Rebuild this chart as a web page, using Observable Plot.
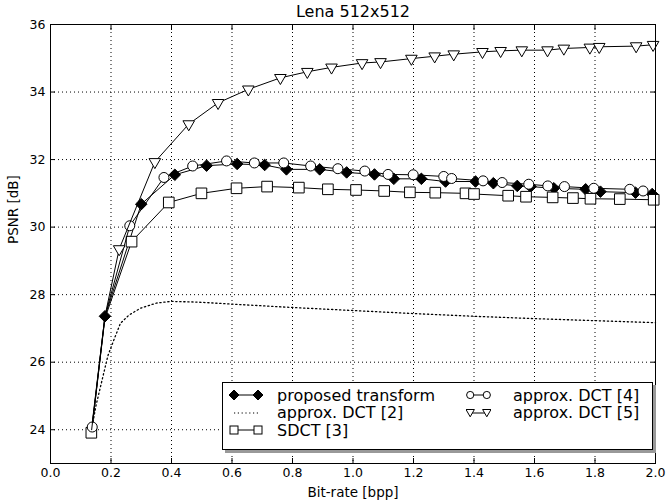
<!DOCTYPE html>
<html><head><meta charset="utf-8">
<script src="https://cdn.jsdelivr.net/npm/d3@7"></script>
<script src="https://cdn.jsdelivr.net/npm/@observablehq/plot@0.6"></script>
<style>
body{margin:0;background:#fff;}
#wrap{position:relative;width:668px;height:501px;font-family:"DejaVu Sans",sans-serif;}
#legend{position:absolute;left:222px;top:382px;width:431px;height:68px;border:1px solid #000;background:#fff;box-shadow:3px 3px 0 #999;box-sizing:border-box;}
.item{position:absolute;height:18px;display:flex;align-items:center;font-size:16px;white-space:nowrap;color:#000;}
</style></head><body><div id="wrap"></div><script>
// ---- data ----
const title = "Lena 512x512";
const xLabel = "Bit-rate [bpp]";
const yLabel = "PSNR [dB]";
const xTicks = [0, 0.2, 0.4, 0.6, 0.8, 1.0, 1.2, 1.4, 1.6, 1.8, 2.0];
const yTicks = [24, 26, 28, 30, 32, 34, 36];

const propX = [0.136,0.18,0.300,0.411,0.516,0.617,0.708,0.78,0.89,0.979,1.071,1.135,1.226,1.306,1.405,1.464,1.543,1.587,1.664,1.769,1.818,1.934,1.989];
const propY = [24.05,27.36,30.68,31.55,31.82,31.87,31.84,31.71,31.71,31.62,31.56,31.43,31.43,31.35,31.35,31.30,31.22,31.20,31.15,31.12,31.05,31.02,30.98];

const dct2X = [0.136,0.15,0.171,0.19,0.21,0.231,0.26,0.298,0.35,0.397,0.485,0.6,0.8,1.0,1.2,1.4,1.6,1.8,2.0];
const dct2Y = [24.0,24.7,25.49,26.2,26.67,27.15,27.4,27.6,27.75,27.8,27.78,27.72,27.62,27.53,27.44,27.36,27.29,27.23,27.17];

const sdctX = [0.135,0.18,0.268,0.391,0.499,0.615,0.716,0.821,0.917,1.01,1.103,1.188,1.272,1.372,1.40,1.513,1.572,1.66,1.727,1.785,1.882,1.994];
const sdctY = [23.91,27.3,29.57,30.73,31.0,31.15,31.2,31.17,31.12,31.1,31.07,31.03,31.02,31.0,30.98,30.93,30.9,30.88,30.86,30.84,30.83,30.81];

const dct4X = [0.138,0.18,0.262,0.375,0.470,0.582,0.674,0.771,0.86,0.95,1.039,1.116,1.199,1.30,1.326,1.43,1.493,1.581,1.644,1.699,1.796,1.915,1.959];
const dct4Y = [24.08,27.36,30.04,31.47,31.81,31.96,31.9,31.9,31.81,31.73,31.66,31.56,31.55,31.5,31.44,31.37,31.32,31.27,31.22,31.2,31.15,31.12,31.07];

const dct5X = [0.136,0.18,0.227,0.345,0.457,0.554,0.654,0.760,0.849,0.929,1.030,1.091,1.193,1.270,1.333,1.428,1.488,1.558,1.643,1.697,1.783,1.814,1.936,1.992];
const dct5Y = [24.0,27.36,29.35,31.93,33.05,33.68,34.08,34.42,34.60,34.73,34.86,34.89,34.99,35.06,35.12,35.19,35.22,35.24,35.24,35.29,35.32,35.34,35.36,35.40];

// ---- build ----
const rows = (xs, ys) => xs.map((x, i) => ({x, y: ys[i]}));
const prop = rows(propX, propY);
const dct2 = rows(dct2X, dct2Y);
const sdct = rows(sdctX, sdctY);
const dct4 = rows(dct4X, dct4Y);
const dct5 = rows(dct5X, dct5Y);
const firstX = propX[0];
const hiddenX = propX[1];

const lineOpt = {x: "x", y: "y", stroke: "black", strokeWidth: 1};
const chart = Plot.plot({
  width: 668, height: 501,
  marginLeft: 50, marginRight: 13, marginTop: 24, marginBottom: 38,
  style: {fontFamily: "DejaVu Sans, sans-serif", fontSize: "12.5px", background: "white", color: "black"},
  x: {domain: [0, 2], ticks: xTicks},
  y: {domain: [23, 36], ticks: yTicks},
  marks: [
    Plot.gridX(xTicks, {stroke: "black", strokeOpacity: 1, strokeDasharray: "1,3"}),
    Plot.gridY(yTicks, {stroke: "black", strokeOpacity: 1, strokeDasharray: "1,3"}),
    Plot.axisX(xTicks, {anchor: "bottom", tickSize: -5, tickPadding: 10, tickFormat: d3.format(".1f"), label: null, fontSize: 12.5}),
    Plot.axisX(xTicks, {anchor: "top", tickSize: -5, tickFormat: () => "", label: null}),
    Plot.axisY(yTicks, {anchor: "left", tickSize: -5, tickPadding: 10, tickFormat: d3.format("d"), label: null, fontSize: 12.5}),
    Plot.axisY(yTicks, {anchor: "right", tickSize: -5, tickFormat: () => "", label: null}),
    // proposed transform
    Plot.line(prop, lineOpt),
    Plot.dot(prop.filter(d => d.x !== firstX), {x: "x", y: "y", symbol: "diamond2", r: 5.2, fill: "black", stroke: "black", strokeWidth: 1}),
    // approx DCT [2]
    Plot.line(dct2, {x: "x", y: "y", stroke: "black", strokeWidth: 1.3, strokeDasharray: "1.3,2.7"}),
    // SDCT [3]
    Plot.line(sdct, lineOpt),
    Plot.dot(sdct.filter(d => d.x !== hiddenX), {x: "x", y: "y", symbol: "square", r: 6, fill: "white", stroke: "black", strokeWidth: 1}),
    // approx DCT [4]
    Plot.line(dct4, lineOpt),
    Plot.dot(dct4.filter(d => d.x !== hiddenX), {x: "x", y: "y", symbol: "circle", r: 5, fill: "white", stroke: "black", strokeWidth: 1}),
    // approx DCT [5]
    Plot.line(dct5, lineOpt),
    Plot.dot(dct5.filter(d => d.x !== hiddenX && d.x !== firstX), {x: "x", y: "y", symbol: "triangle", rotate: 180, r: 4.3, fill: "white", stroke: "black", strokeWidth: 1}),
    Plot.frame({stroke: "black", strokeWidth: 1}),
    Plot.text([title], {frameAnchor: "top", dy: -13, fontSize: 16, lineAnchor: "middle"}),
    Plot.text([xLabel], {frameAnchor: "bottom", dy: 29, fontSize: 13.5, lineAnchor: "middle"}),
    Plot.text([yLabel], {frameAnchor: "left", dx: -37, rotate: -90, fontSize: 13.5, lineAnchor: "middle"})
  ]
});
const wrap = document.getElementById("wrap");
wrap.appendChild(chart);

// ---- legend ----
const legendItems = [
  {label: "proposed transform", kind: "diamond", col: 0, row: 0},
  {label: "approx. DCT [2]", kind: "dotted", col: 0, row: 1},
  {label: "SDCT [3]", kind: "square", col: 0, row: 2},
  {label: "approx. DCT [4]", kind: "circle", col: 1, row: 0},
  {label: "approx. DCT [5]", kind: "triangle", col: 1, row: 1}
];
const legend = document.createElement("div");
legend.id = "legend";
wrap.appendChild(legend);
function glyph(kind, cx, cy) {
  if (kind === "diamond") return `<path d="M${cx},${cy-5}L${cx+5},${cy}L${cx},${cy+5}L${cx-5},${cy}Z" fill="black" stroke="black"/>`;
  if (kind === "square") return `<rect x="${cx-4}" y="${cy-4}" width="8" height="8" fill="white" stroke="black"/>`;
  if (kind === "circle") return `<circle cx="${cx}" cy="${cy}" r="3.6" fill="white" stroke="black"/>`;
  if (kind === "triangle") return `<path d="M${cx-4.2},${cy-3.5}L${cx+4.2},${cy-3.5}L${cx},${cy+3.8}Z" fill="white" stroke="black"/>`;
  return "";
}
legendItems.forEach(it => {
  const el = document.createElement("div");
  el.className = "item";
  el.style.left = (it.col === 0 ? 6 : 243) + "px";
  el.style.top = (3 + it.row * 17.5) + "px";
  const w = it.col === 0 ? 34 : 25;
  const a = it.col === 0 ? 5 : 4.2, b = w - a;
  let inner = "";
  if (it.kind === "dotted") {
    inner = `<line x1="${a}" x2="${b}" y1="9" y2="9" stroke="black" stroke-width="1.2" stroke-dasharray="1.2,2.6"/>`;
  } else {
    inner = `<line x1="${a}" x2="${b}" y1="9" y2="9" stroke="black"/>` + glyph(it.kind, a, 9) + glyph(it.kind, b, 9);
  }
  const gap = it.col === 0 ? 14 : 22;
  el.innerHTML = `<svg width="${w}" height="18" style="margin-right:${gap}px">${inner}</svg><span>${it.label}</span>`;
  legend.appendChild(el);
});
</script></body></html>
